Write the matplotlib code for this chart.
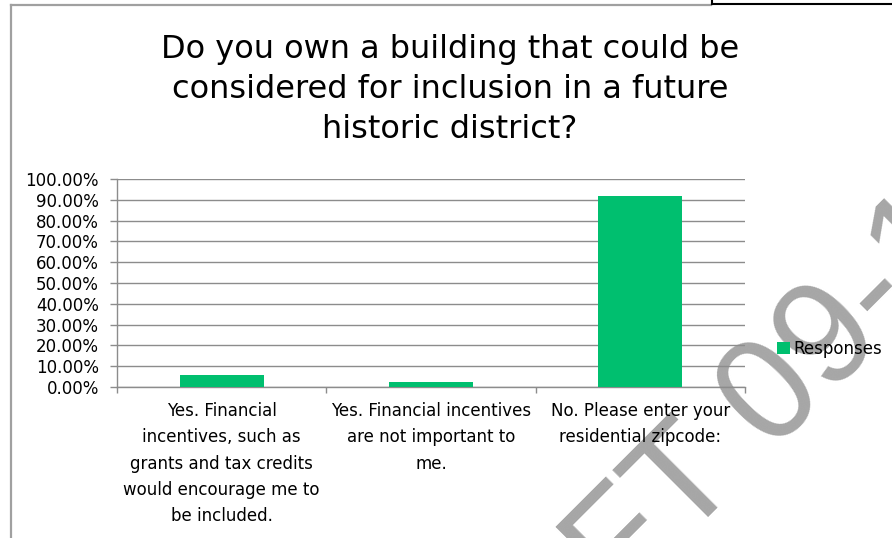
import matplotlib
matplotlib.use("Agg")
import matplotlib.pyplot as plt
from matplotlib.lines import Line2D
from matplotlib.ticker import FixedLocator, PercentFormatter

# survey answers and share of responses
categories = [
    "Yes. Financial\nincentives, such as\ngrants and tax credits\nwould encourage me to\nbe included.",
    "Yes. Financial incentives\nare not important to\nme.",
    "No. Please enter your\nresidential zipcode:",
]
responses = [0.060, 0.022, 0.918]
y_ticks = [i / 10 for i in range(11)]

title = "Do you own a building that could be\nconsidered for inclusion in a future\nhistoric district?"
series_name = "Responses"

green = "#00BF6F"
grid_gray = "#8C8C8C"

fig = plt.figure(figsize=(8.92, 5.38), dpi=100)
W, H = 892, 538

# plot area in pixel terms of the reference
ax = fig.add_axes([117 / W, 1 - 387 / H, (745 - 117) / W, (387 - 179) / H])
ax.patch.set_alpha(0)

x = list(range(len(categories)))
ax.bar(x, responses, width=0.4, color=green, label=series_name, zorder=3)

ax.set_xlim(-0.5, len(categories) - 0.5)
ax.set_ylim(0, 1)
ax.set_yticks(y_ticks)
ax.yaxis.set_major_formatter(PercentFormatter(1.0, decimals=2))
ax.grid(axis="y", color=grid_gray, lw=1.0, zorder=1)
ax.set_axisbelow(True)

# category boundaries as tick marks, names centred between them
ax.xaxis.set_major_locator(FixedLocator([i - 0.5 for i in range(len(categories) + 1)]))
ax.xaxis.set_major_formatter(plt.NullFormatter())
ax.set_xticks(x, minor=True)
ax.set_xticklabels(categories, minor=True, fontsize=12, linespacing=1.58)
ax.tick_params(axis="x", which="major", length=4, color=grid_gray, width=1.0)
ax.tick_params(axis="x", which="minor", length=0, pad=11)
ax.tick_params(axis="y", length=5, color=grid_gray, width=1.0, pad=8, labelsize=12)

for side in ["top", "right"]:
    ax.spines[side].set_visible(False)
for side in ["left", "bottom"]:
    ax.spines[side].set_color(grid_gray)
    ax.spines[side].set_linewidth(1.0)

ax.legend(loc="center left", bbox_to_anchor=(777 / W, 1 - 349 / H),
          bbox_transform=fig.transFigure, frameon=False, fontsize=12,
          handlelength=0.75, handleheight=0.75, handletextpad=0.25,
          borderpad=0, borderaxespad=0)

# baseline of the last title line
fig.text(450 / W, 1 - 138 / H, title, ha="center", va="baseline",
         fontsize=23, linespacing=1.38, family="DejaVu Sans")

# chart border pieces and page frame at the top
fig.add_artist(Line2D([11 / W, 711 / W], [1 - 5 / H, 1 - 5 / H], color="#A0A0A0", lw=1.6))
fig.add_artist(Line2D([11 / W, 11 / W], [1 - 5 / H, 0], color="#A0A0A0", lw=1.6))
fig.add_artist(Line2D([712 / W, 1], [1 - 4 / H, 1 - 4 / H], color="black", lw=1.5))
fig.add_artist(Line2D([712 / W, 712 / W], [1, 1 - 4 / H], color="black", lw=1.5))

# watermark
fig.text(690 / W, 1 - 536 / H, "DRAFT 09-1", rotation=45, rotation_mode="anchor",
         ha="center", va="baseline", fontsize=105, color="#A6A6A6",
         family="Liberation Sans", zorder=-1)

fig.savefig("out.png", dpi=100)
